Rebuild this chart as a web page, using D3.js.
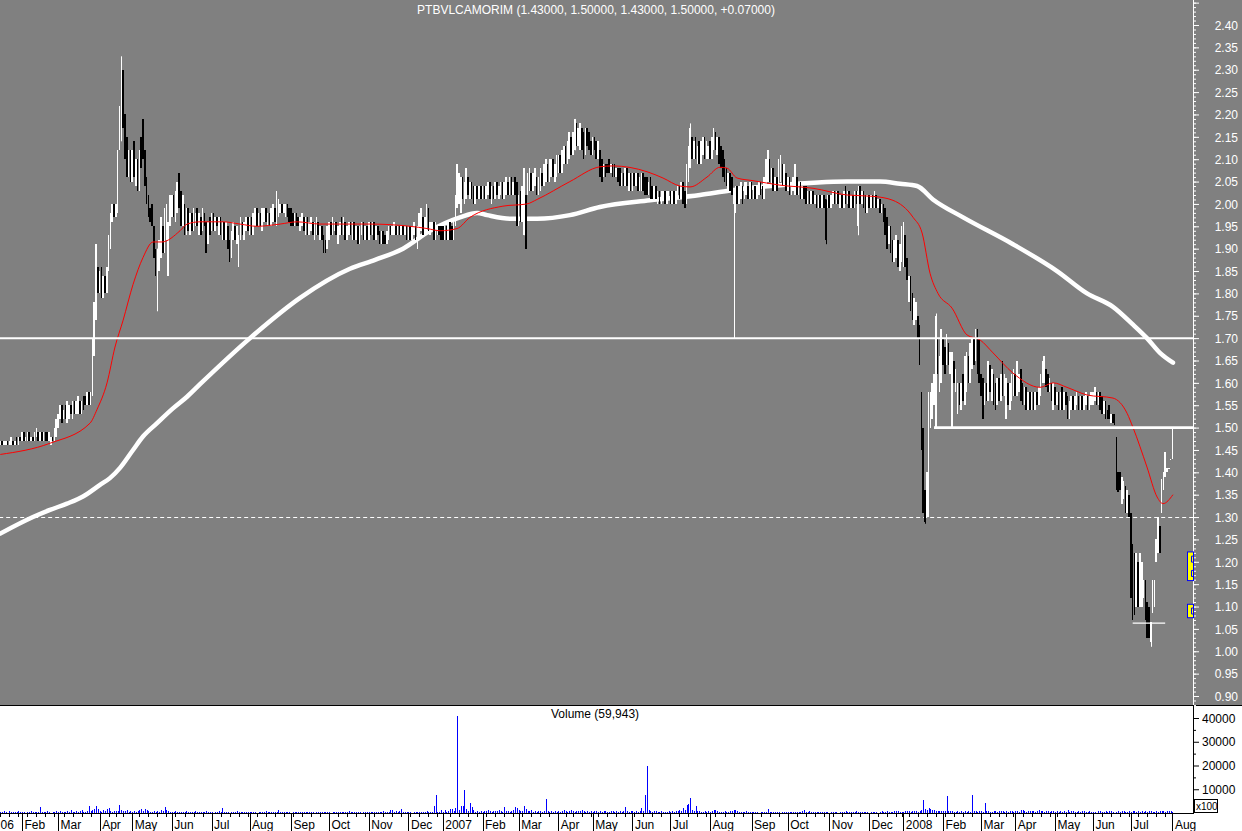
<!DOCTYPE html>
<html><head><meta charset="utf-8">
<script src="https://cdn.jsdelivr.net/npm/d3@7"></script>
<style>
body{margin:0;background:#fff}
svg{display:block}
text{font-family:"Liberation Sans",Arial,sans-serif}
</style>
</head><body>
<svg id="c" width="1242" height="831"></svg>
<script>
// ---------------- DATA ----------------
const symbol = "PTBVLCAMORIM";
const lastQuote = ["1.43000", "1.50000", "1.43000", "1.50000", "+0.07000"];
const lastVolume = "59,943";
const firstDay = "2006-01-16";
const holidays = ["2006-04-14","2006-04-17","2006-05-01","2006-12-25","2006-12-26",
  "2007-01-01","2007-04-06","2007-04-09","2007-05-01","2007-12-25","2007-12-26",
  "2008-01-01","2008-03-21","2008-03-24","2008-05-01"];
const monthNames = ["Jan","Feb","Mar","Apr","May","Jun","Jul","Aug","Sep","Oct","Nov","Dec"];
const priceTicks = [0.90,0.95,1.00,1.05,1.10,1.15,1.20,1.25,1.30,1.35,1.40,1.45,1.50,1.55,1.60,1.65,1.70,1.75,1.80,1.85,1.90,1.95,2.00,2.05,2.10,2.15,2.20,2.25,2.30,2.35,2.40];
const volumeTicks = [10000,20000,30000,40000];

// daily candles [open, close] (one row per month)
const candles = [
// 2006 Jan (from 16th)
[1.46,1.47],[1.47,1.46],[1.46,1.47],[1.46,1.47],[1.47,1.46],[1.46,1.47],[1.46,1.48],[1.47,1.46],[1.46,1.47],[1.48,1.46],[1.46,1.48],[1.48,1.47],
// Feb
[1.47,1.49],[1.49,1.47],[1.47,1.48],[1.47,1.49],[1.49,1.47],[1.47,1.48],[1.48,1.47],[1.47,1.49],[1.48,1.50],[1.49,1.47],[1.47,1.49],[1.49,1.47],[1.47,1.49],[1.49,1.47],[1.49,1.47],[1.47,1.49],[1.46,1.48],[1.48,1.47],[1.47,1.50],[1.48,1.52],
// Mar
[1.50,1.53],[1.52,1.55],[1.55,1.51],[1.52,1.54],[1.55,1.52],[1.51,1.56],[1.52,1.55],[1.55,1.53],[1.52,1.56],[1.56,1.53],[1.53,1.56],[1.53,1.57],[1.56,1.53],[1.53,1.56],[1.57,1.54],[1.57,1.55],[1.55,1.58],[1.58,1.55],[1.55,1.58],[1.57,1.70],[1.66,1.78],[1.74,1.91],[1.86,1.80],
// Apr
[1.80,1.85],[1.86,1.79],[1.79,1.84],[1.84,1.80],[1.80,1.86],[1.85,1.93],[1.90,1.98],[1.96,2.00],[2.00,1.97],[1.97,2.00],[1.98,2.12],[2.12,2.22],[2.15,2.32],[2.30,2.17],[2.20,2.10],[2.15,2.06],[2.06,2.12],[2.12,2.05],
// May
[2.05,2.12],[2.14,2.06],[2.04,2.10],[2.10,2.03],[2.03,2.12],[2.15,2.08],[2.19,2.10],[2.12,2.04],[2.06,2.00],[2.02,1.97],[1.99,1.96],[2.00,1.95],[1.95,1.88],[1.90,1.84],[1.77,1.90],[1.85,1.92],[1.88,1.97],[1.95,1.89],[1.89,1.99],[1.92,2.00],[1.84,1.96],[1.95,2.02],
// Jun
[1.97,2.02],[2.02,1.97],[1.96,2.03],[1.98,2.05],[2.07,1.99],[2.03,1.95],[1.95,2.02],[2.00,1.93],[1.93,1.99],[1.99,1.94],[1.93,1.98],[1.98,1.94],[1.94,1.99],[1.95,1.98],[1.99,1.95],[1.93,1.98],[1.97,1.93],[1.94,1.99],[1.98,1.95],[1.96,1.89],[1.91,1.96],[1.97,1.93],
// Jul
[1.94,1.98],[1.98,1.94],[1.94,1.97],[1.97,1.95],[1.93,1.97],[1.97,1.93],[1.92,1.96],[1.96,1.92],[1.92,1.96],[1.95,1.90],[1.92,1.87],[1.88,1.94],[1.92,1.96],[1.95,1.92],[1.91,1.95],[1.86,1.93],[1.92,1.97],[1.96,1.93],[1.92,1.96],[1.94,1.97],[1.97,1.94],
// Aug
[1.93,1.97],[1.97,1.93],[1.93,1.98],[1.95,1.99],[1.99,1.95],[1.95,1.98],[1.98,1.95],[1.94,1.99],[1.96,1.99],[1.99,1.96],[1.95,1.98],[1.98,1.95],[1.95,1.99],[1.96,2.00],[1.99,1.96],[1.95,2.03],[1.97,2.01],[1.98,2.00],[2.00,1.98],[1.98,2.00],[1.97,2.00],[2.00,1.97],[1.99,1.96],
// Sep
[1.99,1.95],[1.98,1.95],[1.95,1.98],[1.98,1.95],[1.97,1.95],[1.94,1.97],[1.95,1.98],[1.97,1.94],[1.93,1.97],[1.97,1.93],[1.93,1.96],[1.94,1.97],[1.96,1.93],[1.92,1.96],[1.93,1.97],[1.96,1.93],[1.92,1.95],[1.95,1.92],[1.93,1.89],[1.92,1.89],[1.90,1.95],
// Oct
[1.92,1.96],[1.96,1.93],[1.93,1.97],[1.94,1.96],[1.96,1.93],[1.91,1.95],[1.93,1.96],[1.97,1.93],[1.93,1.97],[1.96,1.92],[1.92,1.95],[1.93,1.96],[1.96,1.93],[1.92,1.96],[1.96,1.92],[1.92,1.95],[1.95,1.91],[1.91,1.95],[1.93,1.96],[1.96,1.92],[1.92,1.95],[1.95,1.92],
// Nov
[1.92,1.96],[1.96,1.93],[1.93,1.96],[1.96,1.92],[1.92,1.95],[1.95,1.93],[1.94,1.91],[1.91,1.94],[1.94,1.91],[1.93,1.91],[1.91,1.94],[1.92,1.95],[1.95,1.93],[1.93,1.95],[1.93,1.96],[1.95,1.93],[1.93,1.95],[1.95,1.93],[1.93,1.95],[1.95,1.93],[1.93,1.95],[1.95,1.92],
// Dec
[1.92,1.95],[1.95,1.92],[1.92,1.95],[1.93,1.96],[1.95,1.92],[1.90,1.95],[1.92,1.98],[1.94,1.99],[1.97,1.93],[1.93,1.97],[1.94,2.00],[1.99,1.94],[1.93,1.96],[1.94,1.96],[1.96,1.92],[1.92,1.96],[1.93,1.95],[1.95,1.93],[1.95,1.92],
// 2007 Jan
[1.95,1.92],[1.92,1.95],[1.95,1.92],[1.92,1.96],[1.96,1.92],[1.95,1.92],[1.92,1.96],[1.95,2.02],[1.99,2.09],[2.00,2.07],[1.98,2.06],[2.06,2.01],[2.00,2.05],[2.01,2.08],[2.06,2.02],[2.01,2.05],[2.05,2.01],[2.04,2.00],[2.00,2.04],[2.04,2.01],[2.01,2.04],[2.04,2.01],
// Feb
[2.01,2.04],[2.04,2.01],[2.01,2.04],[2.02,2.05],[2.05,2.01],[2.00,2.04],[2.04,2.01],[2.01,2.05],[2.05,2.02],[2.01,2.04],[2.02,2.05],[2.05,2.01],[2.01,2.05],[2.02,2.06],[2.05,2.02],[2.02,2.06],[2.06,2.02],[2.02,2.05],[2.06,2.02],[2.05,1.95],
// Mar
[1.95,2.02],[2.03,1.96],[1.96,2.04],[1.93,2.08],[2.02,1.90],[2.02,2.07],[2.03,2.08],[2.07,2.03],[2.03,2.07],[2.04,2.08],[2.06,2.02],[2.02,2.06],[2.03,2.08],[2.07,2.04],[2.04,2.09],[2.05,2.10],[2.09,2.05],[2.05,2.10],[2.06,2.10],[2.10,2.06],[2.05,2.09],[2.06,2.11],
// Apr
[2.07,2.11],[2.11,2.07],[2.07,2.12],[2.09,2.13],[2.13,2.09],[2.09,2.14],[2.10,2.16],[2.15,2.11],[2.11,2.16],[2.12,2.19],[2.18,2.13],[2.13,2.17],[2.12,2.18],[2.17,2.12],[2.16,2.10],[2.11,2.17],[2.17,2.13],[2.16,2.12],[2.14,2.11],
// May
[2.11,2.15],[2.15,2.12],[2.14,2.10],[2.10,2.14],[2.12,2.06],[2.10,2.05],[2.06,2.09],[2.09,2.06],[2.09,2.07],[2.10,2.07],[2.07,2.09],[2.09,2.06],[2.09,2.06],[2.06,2.08],[2.08,2.05],[2.08,2.04],[2.04,2.07],[2.07,2.04],[2.04,2.08],[2.08,2.04],[2.03,2.07],[2.07,2.03],
// Jun
[2.03,2.07],[2.07,2.04],[2.04,2.07],[2.07,2.03],[2.03,2.06],[2.03,2.07],[2.07,2.03],[2.06,2.02],[2.06,2.02],[2.02,2.05],[2.06,2.01],[2.04,2.01],[2.01,2.04],[2.04,2.01],[2.00,2.03],[2.03,2.00],[2.00,2.03],[2.01,2.03],[2.03,2.00],[2.00,2.03],[2.01,2.03],
// Jul
[2.03,2.00],[2.00,2.03],[2.03,2.00],[2.00,2.03],[2.01,2.04],[2.04,2.01],[2.01,2.05],[2.05,2.00],[2.03,1.99],[2.00,2.09],[2.05,2.13],[2.08,2.17],[2.15,2.10],[2.10,2.14],[2.15,2.10],[2.09,2.13],[2.14,2.09],[2.09,2.14],[2.11,2.15],[2.15,2.10],[2.10,2.14],[2.10,2.13],
// Aug
[2.14,2.10],[2.10,2.15],[2.12,2.17],[2.16,2.12],[2.11,2.15],[2.15,2.09],[2.13,2.08],[2.12,2.06],[2.10,2.05],[2.08,2.04],[2.03,2.07],[2.07,2.03],[2.06,2.02],[2.00,2.03],[1.98,2.04],[2.04,2.00],[2.00,2.04],[2.01,2.05],[2.04,2.00],[2.01,2.05],[2.02,2.05],[2.04,2.01],[2.01,2.05],
// Sep
[2.05,2.01],[2.01,2.04],[2.04,2.01],[2.01,2.04],[2.02,2.05],[2.05,2.02],[2.04,2.01],[2.01,2.06],[2.04,2.10],[2.05,2.12],[2.10,2.05],[2.04,2.08],[2.08,2.03],[2.03,2.06],[2.06,2.03],[2.04,2.10],[2.05,2.11],[2.09,2.04],[2.04,2.09],[2.07,2.03],
// Oct
[2.03,2.06],[2.06,2.02],[2.02,2.05],[2.03,2.06],[2.02,2.09],[2.06,2.02],[2.02,2.05],[2.05,2.01],[2.01,2.04],[2.04,2.01],[2.04,2.00],[2.00,2.03],[2.03,2.00],[2.00,2.03],[2.03,2.00],[2.00,2.02],[2.02,1.99],[1.99,2.02],[2.02,1.99],[1.99,2.02],[2.02,1.99],[2.01,1.92],[1.99,2.02],
// Nov
[2.02,1.99],[1.99,2.02],[2.00,2.03],[2.03,2.00],[2.00,2.03],[2.03,2.00],[1.99,2.02],[2.02,1.99],[1.99,2.03],[2.04,2.00],[2.00,2.03],[2.03,1.99],[1.99,2.02],[2.02,1.99],[1.99,2.03],[2.03,2.00],[1.95,2.03],[2.04,2.00],[2.00,2.03],[2.03,1.99],[2.02,1.98],[1.98,2.02],
// Dec
[2.02,1.99],[1.99,2.02],[2.02,1.99],[1.99,2.03],[2.02,1.99],[1.99,2.01],[2.01,1.98],[1.98,2.00],[2.00,1.96],[1.99,1.93],[1.97,1.90],[1.91,1.95],[1.95,1.89],[1.92,1.87],[1.87,1.92],[1.88,1.93],[1.92,1.86],[1.85,1.91],[1.87,1.95],
// 2008 Jan
[1.86,1.96],[1.93,1.86],[1.88,1.83],[1.78,1.84],[1.84,1.76],[1.80,1.74],[1.73,1.79],[1.74,1.78],[1.75,1.70],[1.73,1.64],[1.58,1.45],[1.50,1.31],[1.36,1.29],[1.30,1.40],[1.30,1.58],[1.50,1.58],[1.52,1.60],[1.55,1.62],[1.50,1.75],[1.70,1.62],[1.58,1.66],[1.60,1.72],
// Feb
[1.70,1.64],[1.68,1.62],[1.64,1.71],[1.69,1.64],[1.62,1.67],[1.50,1.67],[1.65,1.60],[1.58,1.63],[1.53,1.60],[1.60,1.55],[1.54,1.60],[1.62,1.56],[1.55,1.66],[1.58,1.67],[1.66,1.60],[1.60,1.69],[1.63,1.70],[1.70,1.64],[1.65,1.72],[1.72,1.62],[1.70,1.60],
// Mar
[1.62,1.57],[1.61,1.52],[1.55,1.60],[1.60,1.56],[1.56,1.65],[1.64,1.58],[1.56,1.63],[1.62,1.55],[1.60,1.54],[1.55,1.61],[1.61,1.56],[1.56,1.62],[1.65,1.57],[1.57,1.62],[1.52,1.61],[1.60,1.55],[1.54,1.60],[1.56,1.62],[1.57,1.63],
// Apr
[1.62,1.57],[1.57,1.65],[1.58,1.62],[1.63,1.56],[1.60,1.55],[1.55,1.59],[1.59,1.54],[1.54,1.58],[1.58,1.54],[1.54,1.58],[1.58,1.54],[1.54,1.58],[1.58,1.55],[1.55,1.59],[1.57,1.62],[1.60,1.65],[1.60,1.66],[1.63,1.59],[1.62,1.58],[1.58,1.61],[1.60,1.56],[1.54,1.60],
// May
[1.59,1.55],[1.55,1.58],[1.58,1.54],[1.54,1.58],[1.59,1.54],[1.54,1.58],[1.58,1.55],[1.57,1.52],[1.52,1.56],[1.54,1.57],[1.57,1.54],[1.54,1.57],[1.55,1.58],[1.57,1.54],[1.54,1.57],[1.57,1.54],[1.54,1.57],[1.55,1.58],[1.57,1.54],[1.54,1.57],[1.55,1.58],
// Jun
[1.55,1.58],[1.56,1.59],[1.58,1.55],[1.55,1.58],[1.58,1.54],[1.57,1.53],[1.53,1.56],[1.56,1.52],[1.54,1.52],[1.55,1.52],[1.51,1.53],[1.53,1.51],[1.53,1.505],[1.48,1.36],[1.40,1.355],[1.40,1.36],[1.33,1.39],[1.34,1.38],[1.37,1.31],[1.31,1.36],[1.35,1.30],
// Jul
[1.31,1.12],[1.24,1.07],[1.22,1.08],[1.10,1.22],[1.20,1.10],[1.10,1.22],[1.10,1.20],[1.12,1.16],[1.16,1.07],[1.11,1.03],[1.10,1.03],[1.02,1.065],[1.085,1.16],[1.10,1.16],[1.20,1.25],[1.22,1.30],[1.28,1.22],[1.31,1.385],[1.36,1.40],[1.39,1.445],[1.40,1.41],[1.41,1.41],[1.43,1.43],
// Aug
[1.43,1.50]
];

// long shadows [day index, low, high]
const wicks = [[67,2.14,2.33],[87,1.76,1.90],[290,1.93,2.08],[291,1.90,2.02],[318,2.12,2.19],[382,2.08,2.18],
  [406,1.70,2.03],[457,1.91,2.01],[475,1.93,2.04],[512,1.285,1.36],[518,1.50,1.755],[637,1.01,1.065]];

// daily volume (x100)
const volumes = [
600,300,800,500,0,700,400,600,300,500,700,400,
500,400,0,600,300,700,500,400,600,300,2700,600,500,400,700,300,0,500,600,800,
500,700,400,600,300,800,500,1200,600,400,900,500,700,1300,600,500,800,3000,900,1400,1700,3000,1500,
800,600,1100,700,1500,2300,900,600,1000,800,700,3300,1400,900,700,1200,600,800,
500,700,400,900,1200,1500,1000,1700,1300,800,600,400,700,500,900,600,1100,800,2700,1400,900,500,
600,400,700,500,300,600,500,400,700,300,500,600,400,800,500,300,600,400,500,700,400,600,
500,0,600,400,700,500,2300,600,400,500,0,300,600,500,700,400,500,300,600,400,500,
400,600,300,500,0,400,600,500,300,700,400,500,600,300,500,400,1400,600,500,300,400,500,600,
0,500,400,600,300,500,400,600,500,300,400,600,500,0,400,600,300,500,400,600,500,
400,0,500,300,600,400,500,300,600,400,500,1000,500,300,400,600,500,400,0,500,300,400,
500,400,600,300,500,400,600,500,700,400,500,600,1300,1200,600,900,500,700,1800,600,400,500,
500,400,0,600,300,500,400,600,500,300,700,500,400,600,2900,7400,600,400,1200,
500,1300,600,900,1500,1800,700,2200,40700,1200,3000,3000,9500,1500,900,4100,2700,1300,600,900,500,800,
600,900,700,1100,800,600,1000,700,900,1200,800,600,2700,900,700,600,800,1100,2500,2000,
1300,800,1000,3000,1500,900,700,1100,600,800,500,700,900,600,1000,5700,900,600,800,500,700,600,
800,600,900,1200,700,500,800,1100,900,600,1000,700,800,1200,900,600,700,500,800,
600,900,700,500,800,600,1000,700,500,600,800,900,600,700,500,800,600,700,2700,900,600,800,
700,500,800,600,900,2000,700,7400,19700,1200,900,600,700,800,500,600,700,400,600,500,700,
500,700,600,800,900,1200,1000,2200,1100,3300,3700,6500,1400,900,3000,1000,700,600,500,800,600,700,
600,800,1400,1200,700,500,600,400,700,500,600,800,900,1400,1400,700,500,600,400,500,700,600,500,
400,600,500,300,0,500,400,600,500,1700,600,500,400,600,300,500,0,400,600,500,
500,400,600,300,500,400,600,500,700,1200,600,500,700,600,500,600,400,500,600,300,500,600,400,
0,500,400,600,500,0,400,600,500,700,600,500,400,600,500,700,600,400,500,600,400,500,
0,400,500,600,300,0,500,700,600,500,800,600,500,400,900,700,1000,500,600,
600,800,700,900,600,1000,800,700,600,900,1200,5300,1500,1300,2000,1500,1200,1300,1000,900,700,800,
900,700,7000,1000,800,700,600,500,900,600,700,500,800,600,700,500,7400,900,700,600,800,
700,600,4200,900,700,500,600,800,700,600,800,1000,700,600,800,500,900,700,600,
700,800,600,1300,1100,900,600,800,700,1000,700,600,900,1300,700,800,600,700,900,600,800,700,
600,700,500,800,600,700,500,1300,600,800,700,600,500,700,600,800,700,500,600,700,500,
500,600,0,700,800,500,600,700,600,800,700,500,0,600,700,600,800,700,500,600,800,
600,700,800,600,700,500,800,600,700,600,700,800,600,500,700,600,800,700,900,600,1000,800,700,
599
];

// moving averages [day index, value]
const maShort = [[0,1.44],[27.5,1.465],[49.7,1.51],[53.5,1.54],[59.1,1.60],[63.5,1.68],[68,1.74],[73.5,1.82],[79,1.88],[84.6,1.915],[89.5,1.915],[99.5,1.94],[103.4,1.955],[110.6,1.96],[123.3,1.96],[132.7,1.955],[142.1,1.95],[154.9,1.955],[164.3,1.96],[177,1.955],[193.6,1.955],[204.7,1.955],[226.9,1.95],[236.3,1.945],[243.5,1.94],[252.9,1.945],[260.1,1.97],[278.3,1.995],[291.6,2.00],[297.2,2.01],[315.4,2.05],[332,2.083],[339.3,2.085],[358.1,2.072],[366.9,2.058],[376.4,2.04],[381.9,2.038],[391.3,2.06],[398.5,2.082],[402.4,2.08],[407.9,2.058],[416.8,2.052],[431.7,2.042],[450,2.035],[468.8,2.02],[483.2,2.017],[494.3,2.008],[505.4,1.97],[510.4,1.935],[514.8,1.845],[519.2,1.80],[527,1.767],[535.3,1.707],[542.5,1.696],[549.7,1.667],[560.7,1.622],[575.7,1.59],[583,1.60],[590.6,1.59],[601.7,1.573],[616.1,1.566],[623.9,1.532],[627.2,1.50],[634.9,1.412],[640.5,1.345],[643.8,1.33],[649.3,1.35]];
const maLong = [[0,1.263],[18.1,1.30],[27.5,1.316],[36.9,1.33],[45.8,1.346],[55.2,1.372],[60.7,1.387],[66.3,1.41],[73.5,1.45],[79,1.48],[86.8,1.51],[95.6,1.543],[103.4,1.569],[110.6,1.597],[138.3,1.70],[166,1.79],[193.6,1.855],[207.5,1.875],[223,1.90],[237.9,1.94],[254.5,1.97],[264,1.98],[269.5,1.975],[282.2,1.967],[297.2,1.967],[315.4,1.975],[332,1.993],[359.7,2.008],[387.4,2.02],[404,2.03],[431.7,2.042],[468.8,2.05],[487.1,2.05],[498.2,2.045],[507.6,2.04],[516.4,2.01],[533.1,1.97],[560.7,1.91],[585.1,1.85],[601.7,1.80],[616.1,1.77],[627.2,1.73],[634.9,1.70],[642.1,1.667],[649.3,1.645]];

// horizontal levels [value, from day index, to day index, style]
const levels = [[1.30,-20,700,"dash"],[1.70,-20,700,"solid"],[1.50,517,700,"thick"],[1.063,627,645,"thin"]];
// right-edge markers [top price, bottom price]
const markers = [[1.222,1.158],[1.105,1.075]];

// ---------------- CHART ----------------
const svg = d3.select("#c");
const axisX = 1193, panelBottom = 705, volBase = 813;
const x = d3.scaleLinear().domain([0, 660.4]).range([0.3, axisX]);
const y = d3.scaleLinear().domain([0.90, 2.40]).range([696, 25]);
const yv = d3.scaleLinear().domain([0, 40000]).range([volBase, 718]);

svg.append("rect").attr("x",0).attr("y",0).attr("width",1242).attr("height",panelBottom).attr("fill","#808080");
svg.append("rect").attr("x",0).attr("y",panelBottom).attr("width",1242).attr("height",831-panelBottom).attr("fill","#fff");
svg.append("line").attr("x1",0).attr("x2",1242).attr("y1",panelBottom+0.5).attr("y2",panelBottom+0.5).attr("stroke","#000");

const defs = svg.append("defs");
defs.append("clipPath").attr("id","pc").append("rect").attr("x",0).attr("y",0).attr("width",axisX).attr("height",panelBottom);
const plot = svg.append("g").attr("clip-path","url(#pc)");

// dashed level below everything
const lvl = d => ({v:d[0], a:d[1], b:d[2], s:d[3]});
plot.selectAll("line.lvlDash").data(levels.map(lvl).filter(d=>d.s==="dash")).join("line")
  .attr("x1",d=>x(d.a)).attr("x2",d=>x(d.b)).attr("y1",d=>Math.round(y(d.v))+0.5).attr("y2",d=>Math.round(y(d.v))+0.5)
  .attr("stroke","#fff").attr("stroke-width",1).attr("stroke-dasharray","4,3");

// long moving average
const maLine = d3.line().x(d=>x(d[0])).y(d=>y(d[1])).curve(d3.curveMonotoneX);
plot.append("path").attr("d",maLine(maLong)).attr("fill","none").attr("stroke","#fff")
  .attr("stroke-width",4.5).attr("stroke-linecap","round");

// candles
const bars = candles.map((d,i)=>({i, o:d[0], c:d[1]}));
plot.selectAll("line.wick").data(wicks).join("line")
  .attr("x1",d=>Math.round(x(d[0]))+0.5).attr("x2",d=>Math.round(x(d[0]))+0.5)
  .attr("y1",d=>y(d[1])).attr("y2",d=>y(d[2]))
  .attr("stroke",d=>{const b=bars[d[0]]; return b.c>=b.o?"#fff":"#000";}).attr("stroke-width",1);
plot.selectAll("rect.bar").data(bars).join("rect")
  .attr("x",d=>x(d.i)-0.8).attr("width",1.6)
  .attr("y",d=>y(Math.max(d.o,d.c)))
  .attr("height",d=>Math.max(1, Math.abs(y(d.o)-y(d.c))))
  .attr("fill",d=>d.c>=d.o?"#fff":"#000")
  .attr("shape-rendering","crispEdges");

// short moving average
plot.append("path").attr("d",maLine(maShort)).attr("fill","none").attr("stroke","#ff0000").attr("stroke-width",1);

// solid levels
plot.selectAll("line.lvl").data(levels.map(lvl).filter(d=>d.s!=="dash")).join("line")
  .attr("x1",d=>x(d.a)).attr("x2",d=>x(d.b))
  .attr("y1",d=>y(d.v)).attr("y2",d=>y(d.v))
  .attr("stroke","#fff").attr("stroke-width",d=>d.s==="thick"?2.6:(d.s==="thin"?1.4:2));

// price axis
const minorP = d3.range(88, 246).map(v=>v/100);
const ga1 = svg.append("g").attr("transform",`translate(${axisX},0)`)
  .call(d3.axisRight(y).tickValues(minorP).tickSize(3).tickFormat(""));
const majorP = priceTicks.concat([2.45]);
const ga2 = svg.append("g").attr("transform",`translate(${axisX},0)`)
  .call(d3.axisRight(y).tickValues(majorP).tickSize(6).tickFormat(v=>v>2.41?"":d3.format(".2f")(v)));
[ga1,ga2].forEach(g=>{g.select(".domain").remove(); g.selectAll("line").attr("stroke","#fff");});
ga2.selectAll("text").attr("fill","#fff").attr("font-size","12px").attr("text-anchor","end").attr("x",45).attr("dy","0.35em")
  .attr("font-family",'"Liberation Sans",Arial,sans-serif');
svg.append("line").attr("x1",axisX+0.5).attr("x2",axisX+0.5).attr("y1",0).attr("y2",panelBottom).attr("stroke","#fff");

// title
svg.append("text").attr("x",596).attr("y",14).attr("text-anchor","middle").attr("fill","#fff").attr("font-size","12px")
  .text(`${symbol} (${lastQuote.join(", ")})`);

// markers on the price axis
markers.forEach((m,k)=>{
  const t=y(m[0]), b=y(m[1]);
  svg.append("rect").attr("x",axisX-5.5).attr("y",t).attr("width",6).attr("height",b-t)
    .attr("fill","#ffff00").attr("stroke","#0000ff").attr("stroke-width",1);
  const n = k===0?2:1;
  for(let j=0;j<n;j++){
    const cy = t + (b-t)*(j+0.5)/n;
    svg.append("path").attr("d",`M${axisX+0.5},${cy-3}H${axisX-1.5}V${cy+3}H${axisX+0.5}`)
      .attr("fill","none").attr("stroke","#0000ff").attr("stroke-width",1);
  }
});

// volume
svg.selectAll("rect.vol").data(volumes).join("rect")
  .attr("x",(d,i)=>Math.round(x(i))).attr("width",1)
  .attr("y",d=>yv(d)).attr("height",d=>volBase-yv(d))
  .attr("fill","#0000ff").attr("shape-rendering","crispEdges");
svg.append("text").attr("x",551).attr("y",718).attr("font-size","12px").attr("fill","#000").text(`Volume (${lastVolume})`);
const minorV = d3.range(5000, 45000, 10000);
const gv1 = svg.append("g").attr("transform",`translate(${axisX},0)`).call(d3.axisRight(yv).tickValues(minorV).tickSize(3).tickFormat(""));
const gv2 = svg.append("g").attr("transform",`translate(${axisX},0)`).call(d3.axisRight(yv).tickValues(volumeTicks).tickSize(6).tickFormat(d3.format("d")));
[gv1,gv2].forEach(g=>{g.select(".domain").remove(); g.selectAll("line").attr("stroke","#000");});
gv2.selectAll("text").attr("fill","#000").attr("font-size","12px").attr("x",9).attr("dy","0.35em")
  .attr("font-family",'"Liberation Sans",Arial,sans-serif');
svg.append("line").attr("x1",axisX+0.5).attr("x2",axisX+0.5).attr("y1",panelBottom).attr("y2",volBase).attr("stroke","#000");
svg.append("rect").attr("x",axisX+1.5).attr("y",799.5).attr("width",23).attr("height",13).attr("fill","#fff").attr("stroke","#000");
svg.append("text").attr("x",axisX+3).attr("y",810).attr("font-size","10px").attr("fill","#000").text("x100");

// time axis (trading days)
const fmt = d3.utcFormat("%Y-%m-%d");
const hol = new Set(holidays);
const days = d3.utcDays(new Date(Date.UTC(2006,0,2)), new Date(Date.UTC(2008,7,2)))
  .filter(d=>{const w=d.getUTCDay(); return w!==0 && w!==6 && !hol.has(fmt(d));});
const offset = days.findIndex(d=>fmt(d)===firstDay);
const monthIdx = [], monthLbl = [], weekIdx = [];
days.forEach((d,j)=>{
  const idx = j - offset;
  const prev = days[j-1];
  if(!prev || prev.getUTCMonth()!==d.getUTCMonth()){
    monthIdx.push(idx);
    monthLbl.push(d.getUTCMonth()===0 ? String(d.getUTCFullYear()) : monthNames[d.getUTCMonth()]);
  } else if(prev && (d.getUTCDay() < prev.getUTCDay() || (d - prev) > 3*864e5)){
    weekIdx.push(idx);
  }
});
svg.append("line").attr("x1",0).attr("x2",axisX+1).attr("y1",volBase+0.5).attr("y2",volBase+0.5).attr("stroke","#000");
const gx1 = svg.append("g").attr("transform",`translate(0,${volBase})`)
  .call(d3.axisBottom(x).tickValues(weekIdx).tickSize(4).tickFormat(""));
const gx2 = svg.append("g").attr("transform",`translate(0,${volBase})`)
  .call(d3.axisBottom(x).tickValues(monthIdx).tickSize(18).tickFormat((v,k)=>monthLbl[k]));
[gx1,gx2].forEach(g=>{g.select(".domain").remove(); g.selectAll("line").attr("stroke","#000").attr("shape-rendering","crispEdges");});
// a label whose tick lies left of the plot shows only its visible tail (as in the source: "06")
gx2.selectAll("text").attr("fill","#000").attr("font-size","12px").attr("text-anchor","start").attr("y",16).attr("dy",null)
  .attr("font-family",'"Liberation Sans",Arial,sans-serif')
  .each(function(v,k){
    const t = d3.select(this);
    const px = x(v);
    if(px + 2 < 0){ t.attr("x", -px).text(monthLbl[k].slice(-2)); }
    else { t.attr("x", 2); }
  });
</script>
</body></html>
